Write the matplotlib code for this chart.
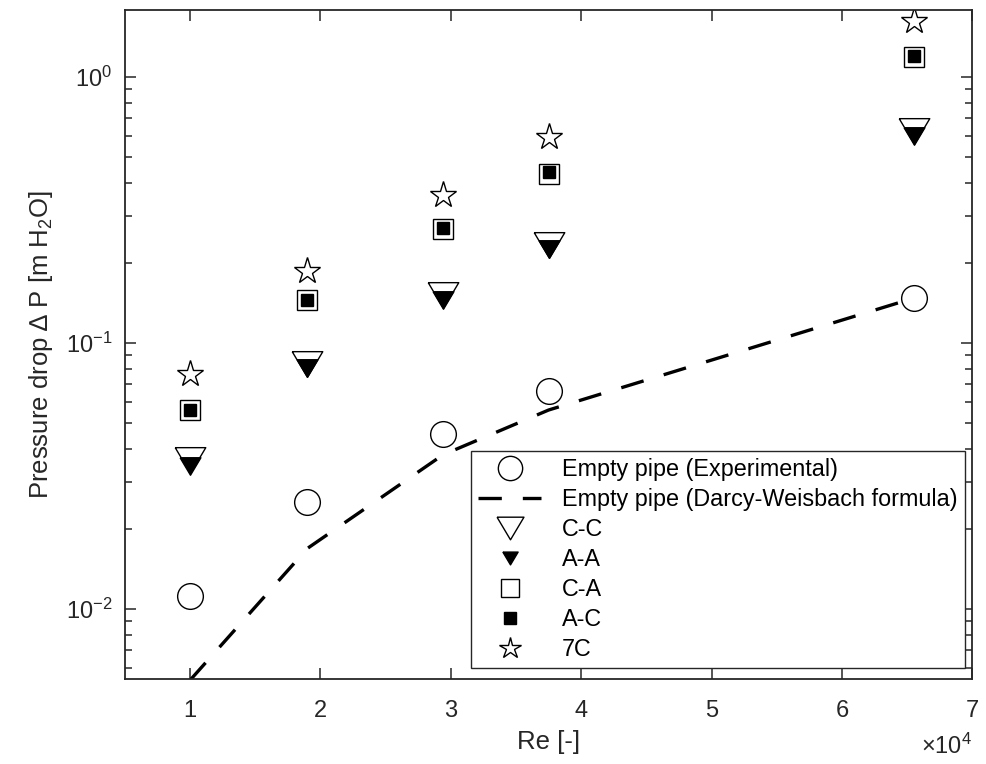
import numpy as np
import matplotlib
matplotlib.use("Agg")
import matplotlib.pyplot as plt
from matplotlib.ticker import FixedLocator, FuncFormatter, LogLocator, NullFormatter

plt.rcParams['font.family'] = ['Liberation Sans', 'DejaVu Sans']
plt.rcParams['mathtext.fontset'] = 'custom'
plt.rcParams['mathtext.rm'] = 'Liberation Sans'
plt.rcParams['mathtext.it'] = 'Liberation Sans:italic'
plt.rcParams['mathtext.bf'] = 'Liberation Sans:bold'

# Reynolds numbers of the five runs
re = [1.0e4, 1.9e4, 2.94e4, 3.75e4, 6.55e4]

# pressure drop [m H2O]
empty_exp = [0.0112, 0.0252, 0.0455, 0.066, 0.1475]
empty_dw = [0.0054, 0.0169, 0.038, 0.056, 0.1475]
cc = [0.0363, 0.0834, 0.151, 0.233, 0.624]
aa = [0.0344, 0.0806, 0.145, 0.226, 0.602]
ca = [0.056, 0.145, 0.268, 0.432, 1.19]
ac = [0.056, 0.145, 0.27, 0.44, 1.20]
c7 = [0.0765, 0.1866, 0.36, 0.595, 1.62]

labels = ['Empty pipe (Experimental)', 'Empty pipe (Darcy-Weisbach formula)',
          'C-C', 'A-A', 'C-A', 'A-C', '7C']
xticks = [1, 2, 3, 4, 5, 6, 7]

grey = '#262626'
# wider-than-tall downward triangle like matlab's 'v'
tri = [(-1, 0.84), (1, 0.84), (0, -0.84), (-1, 0.84)]

fig = plt.figure(figsize=(9.86, 7.64), dpi=100)
ax = fig.add_axes([0.1266, 0.1113, 0.8596, 0.8756])

ax.plot(re, empty_exp, ls='none', marker='o', ms=18.5, mfc='none', mec='k', mew=1.0)
ax.plot(re, empty_dw, ls=(0, (7, 6.3)), lw=2.4, color='k')
ax.plot(re, cc, ls='none', marker=tri, ms=22, mfc='none', mec='k', mew=1.0)
ax.plot(re, aa, ls='none', marker=tri, ms=15, mfc='k', mec='k', mew=1.0)
ax.plot(re, ca, ls='none', marker='s', ms=14.5, mfc='none', mec='k', mew=1.0)
ax.plot(re, ac, ls='none', marker='s', ms=8.8, mfc='k', mec='k', mew=1.0)
ax.plot(re, c7, ls='none', marker='*', ms=20, mfc='none', mec='k', mew=1.0)

ax.set_yscale('log')
ax.set_xlim(0.5e4, 7e4)
ax.set_ylim(0.00546, 1.786)

ax.xaxis.set_major_locator(FixedLocator([v * 1e4 for v in xticks]))
ax.xaxis.set_major_formatter(FuncFormatter(lambda v, p: '%d' % round(v / 1e4)))
ax.yaxis.set_major_locator(LogLocator(base=10))
ax.yaxis.set_minor_locator(LogLocator(base=10, subs=np.arange(2, 10)))
ax.yaxis.set_minor_formatter(NullFormatter())

ax.tick_params(which='both', direction='in', top=True, right=True, color=grey,
               labelcolor=grey, labelsize=17, width=1.1)
ax.tick_params(which='major', length=8)
ax.tick_params(axis='x', which='major', pad=15)
ax.tick_params(axis='y', which='major', pad=9)
ax.tick_params(which='minor', length=5)
for s in ax.spines.values():
    s.set_color(grey)
    s.set_linewidth(1.3)

ax.set_xlabel('Re [-]', fontsize=18.5, color=grey, labelpad=6)
ax.set_ylabel('Pressure drop \u2206 P [m H$_2$O]', fontsize=18.5, color=grey, labelpad=8)
ax.text(1.0, -0.082, '\u00d710$^{4}$', transform=ax.transAxes, ha='right', va='top',
        fontsize=17, color=grey)

leg = ax.legend(labels, loc='lower right', bbox_to_anchor=(0.991, 0.0164),
                borderaxespad=0, fontsize=16.8, fancybox=False, framealpha=1,
                edgecolor=grey, handlelength=2.7, handletextpad=0.9,
                labelspacing=0.3, borderpad=0.3)
leg.get_frame().set_linewidth(1.0)
# legend symbols are drawn a little smaller than the data markers
for h, ms in zip(leg.legend_handles, [17.5, None, 19.4, 11, 13.5, 9.0, 16]):
    if ms is not None:
        h.set_markersize(ms)

fig.savefig('out.png', dpi=100)
